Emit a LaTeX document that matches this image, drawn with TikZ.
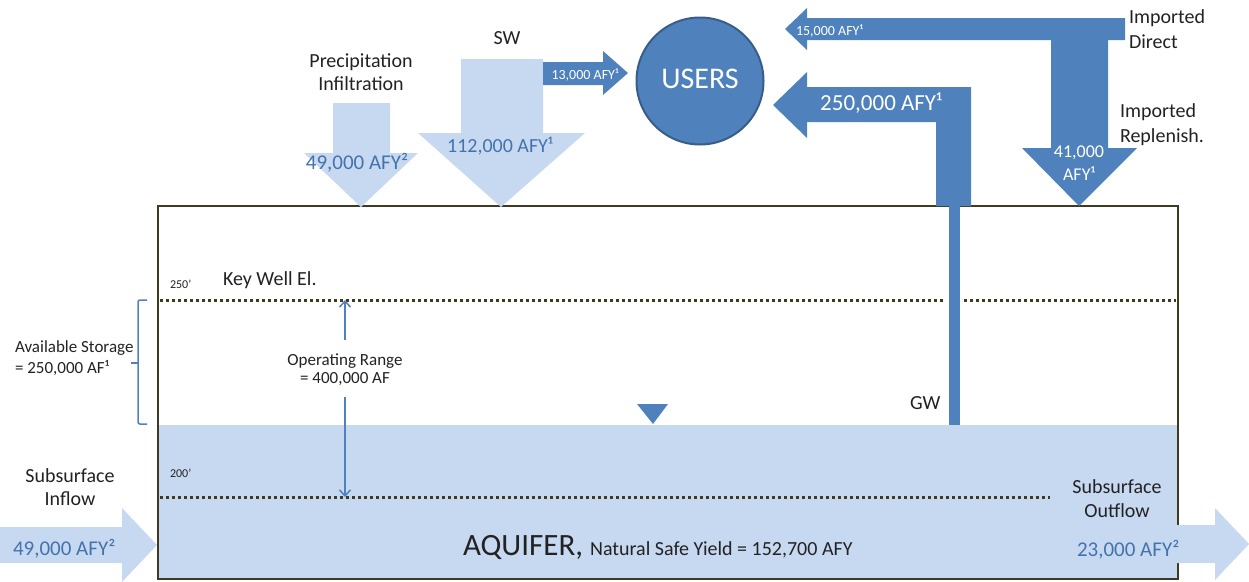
\documentclass[tikz,border=0pt]{standalone}
\usepackage{fontspec}
\setmainfont{Carlito}
\usetikzlibrary{arrows.meta}
\definecolor{dblue}{HTML}{4F81BD}
\definecolor{lblue}{HTML}{C6D9F1}
\definecolor{nblue}{HTML}{4472AC}
\definecolor{olive}{HTML}{3F3B20}
\definecolor{ink}{HTML}{222222}
\definecolor{rimblue}{HTML}{385D8A}
\newcommand\fsz[1]{\fontsize{#1}{#1}\selectfont}
\begin{document}
\begin{tikzpicture}[x=1pt,y=-1pt,
  txt/.style={inner sep=0pt, outer sep=0pt, text=ink},
  ntxt/.style={inner sep=0pt, outer sep=0pt, text=nblue},
  wtxt/.style={inner sep=0pt, outer sep=0pt, text=white},
  lightarrow/.style={fill=lblue, draw=none},
  darkarrow/.style={fill=dblue, draw=none},
  boxline/.style={draw=olive, line width=2pt},
  dotline/.style={draw=olive, line width=3pt, dash pattern=on 3pt off 3pt},
  bluethin/.style={draw=dblue, line width=1.5pt},
  rangearrow/.style={bluethin, -{Straight Barb[length=6pt,width=11pt,line width=1.5pt]}}
]
\useasboundingbox (0,0) rectangle (1249,581);

% water body
\fill[lblue] (158,425) rectangle (1178,579);
% aquifer box
\draw[boxline] (158,206) rectangle (1178,579);

% dotted elevation lines
\coordinate (kwL) at (160,300);
\coordinate (kwA) at (944,300);
\coordinate (kwB) at (964,300);
\coordinate (kwR) at (1176,300);
\coordinate (lwL) at (160,497);
\coordinate (lwR) at (1050,497);
\draw[dotline] (kwL) -- (kwA);
\draw[dotline] (kwB) -- (kwR);
\draw[dotline] (lwL) -- (lwR);

% GW pipe
\fill[dblue] (949,206) rectangle (960,425);

% water table triangle
\fill[dblue] (637,404) -- (668,404) -- (653,424) -- cycle;

% inflow arrow
\path[lightarrow] (0,527) -- (122,527) -- (122,508) -- (157,545) -- (122,582) -- (122,563) -- (0,563) -- cycle;
% outflow arrow
\path[lightarrow] (1177,525) -- (1215,525) -- (1215,508) -- (1249,544) -- (1215,580) -- (1215,563) -- (1177,563) -- cycle;

% precipitation arrow
\path[lightarrow] (333,103) -- (390,103) -- (390,153) -- (418,153) -- (361,207) -- (304,153) -- (333,153) -- cycle;
% SW arrow
\path[lightarrow] (461,59) -- (543,59) -- (543,133) -- (585,133) -- (501,207) -- (418,133) -- (461,133) -- cycle;
% SW to users arrow
\path[darkarrow] (543,62) -- (603,62) -- (603,51) -- (628,73) -- (603,95) -- (603,85) -- (543,85) -- cycle;

% users
\node[circle, fill=dblue, draw=rimblue, line width=2pt, minimum size=127pt, inner sep=0pt] (users) at (700,81) {};
\node[wtxt, anchor=base] (userst) at (700,88) {\fsz{30}USERS};

% GW to users L-arrow
\path[darkarrow] (773,105) -- (807,72) -- (807,87) -- (971,87) -- (971,206) -- (936,206) -- (936,122) -- (807,122) -- (807,138) -- cycle;
% imported T-arrow
\path[darkarrow] (785,29) -- (807,8) -- (807,18) -- (1125,18) -- (1125,40) -- (1108,40) -- (1108,148) -- (1137,148) -- (1079,206) -- (1022,148) -- (1051,148) -- (1051,40) -- (807,40) -- (807,50) -- cycle;

% labels top
\node[txt, anchor=base] (prec1) at (361,67) {\fsz{20}Precipitation};
\node[txt, anchor=base] (prec2) at (361,90) {\fsz{20}Infiltration};
\node[ntxt, anchor=base] (precv) at (357,169) {\fsz{21}49,000 AFY²};
\node[txt, anchor=base] (sw) at (507,44) {\fsz{20}SW};
\node[ntxt, anchor=base] (swv) at (500,152) {\fsz{20}112,000 AFY¹};
\node[wtxt, anchor=base] (swu) at (585,79) {\fsz{14}13,000 AFY¹};
\node[wtxt, anchor=base] (gwv) at (881,110) {\fsz{23}250,000 AFY¹};
\node[wtxt, anchor=base west] (impdv) at (796,35) {\fsz{14}15,000 AFY¹};
\node[txt, anchor=base west] (impd1) at (1129,23) {\fsz{20}Imported};
\node[txt, anchor=base west] (impd2) at (1129,48) {\fsz{20}Direct};
\node[txt, anchor=base west] (impr1) at (1120,117) {\fsz{20}Imported};
\node[txt, anchor=base west] (impr2) at (1120,142) {\fsz{20}Replenish.};
\node[wtxt, anchor=base] (imprv1) at (1079,157) {\fsz{18}41,000};
\node[wtxt, anchor=base] (imprv2) at (1079,180) {\fsz{18}AFY¹};

% labels in box
\node[txt, anchor=base west] (el250) at (170,288) {\fsz{12}250’};
\node[txt, anchor=base west] (keywell) at (223,285) {\fsz{20}Key Well El.};
\node[txt, anchor=base west] (el200) at (170,477) {\fsz{12}200’};
\node[txt, anchor=base] (op1) at (345,365) {\fsz{17}Operating Range};
\node[txt, anchor=base] (op2) at (345,383) {\fsz{17}= 400,000 AF};
\coordinate (opA) at (345,340);
\coordinate (opB) at (345,397);
\coordinate (kwtop) at (345,300);
\coordinate (kwbot) at (345,497);
\draw[rangearrow] (opA) -- (kwtop);
\draw[rangearrow] (opB) -- (kwbot);
\node[txt, anchor=base west] (gw) at (910,409) {\fsz{20}GW};
\node[txt, anchor=base west] (aquifer) at (463,555) {\fsz{31}AQUIFER, \fsz{20}Natural Safe Yield = 152,700 AFY};

% storage brace
\draw[bluethin, rounded corners=2pt] (147,300) -- (138,300) -- (138,363) -- (138,424) -- (147,424);
\draw[bluethin] (138,363) -- (131,363);
\node[txt, anchor=base west] (st1) at (15,352) {\fsz{17}Available Storage};
\node[txt, anchor=base west] (st2) at (15,373) {\fsz{17}= 250,000 AF¹};

% inflow / outflow labels
\node[txt, anchor=base] (in1) at (70,482) {\fsz{20}Subsurface};
\node[txt, anchor=base] (in2) at (70,505) {\fsz{20}Inflow};
\node[ntxt, anchor=base west] (inv) at (13,555) {\fsz{21}49,000 AFY²};
\node[txt, anchor=base] (out1) at (1117,493) {\fsz{20}Subsurface};
\node[txt, anchor=base] (out2) at (1117,517) {\fsz{20}Outflow};
\node[ntxt, anchor=base west] (outv) at (1077,556) {\fsz{21}23,000 AFY²};
\end{tikzpicture}
\end{document}
